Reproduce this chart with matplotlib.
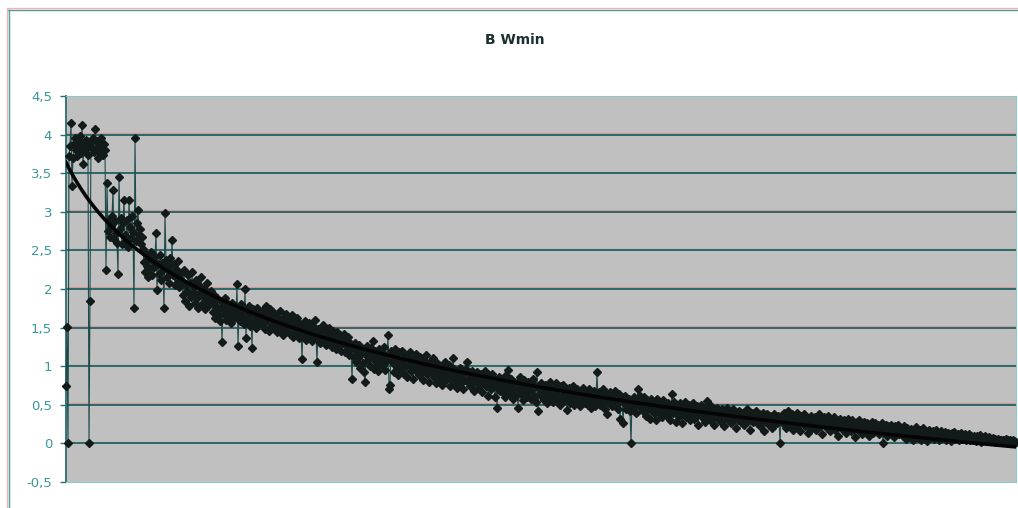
import matplotlib
matplotlib.use("Agg")
import matplotlib.pyplot as plt
import numpy as np
from matplotlib.lines import Line2D
from matplotlib.transforms import ScaledTranslation

# ---------------- data (left to right) ----------------
seg_a = [0.75, 1.51, 0.00, 3.72, 3.85, 4.15, 3.33, 3.70, 3.88, 3.95, 3.80, 3.72, 3.90, 3.84, 3.98,
         3.76, 4.13, 3.62, 3.88, 3.80, 3.93, 3.85, 3.74, 0.00, 1.85, 3.90, 3.82, 3.95, 3.78, 4.07,
         3.80, 3.92, 3.70, 3.86, 3.78, 3.96, 3.82, 3.74, 3.88, 3.80]
seg_b = [2.24, 3.37, 2.75, 2.90, 2.68, 2.82, 2.95, 3.28, 2.65, 2.88, 2.72, 2.60, 2.20, 3.45, 2.78,
         2.92, 2.58, 2.85, 3.15, 2.70, 2.62, 2.90, 2.55, 3.15, 2.80, 2.66, 2.94, 2.74, 1.75, 3.95,
         2.62, 2.86, 3.02, 2.70, 2.78, 2.58, 2.68, 2.52]
seg_c = [2.35, 2.22, 2.45, 2.30, 2.15, 2.40, 2.26, 2.48, 2.18, 2.36, 2.28, 2.42, 2.72, 1.99, 2.32,
         2.20, 2.44, 2.12, 2.34, 2.25, 1.75, 2.98, 2.38, 2.16, 2.30, 2.08, 2.40, 2.22, 2.64, 2.18,
         2.32, 2.05, 2.26, 2.14, 2.36, 2.02, 2.20, 2.10]
seg_d = [2.10, 1.92, 2.25, 1.85, 2.05, 1.98, 2.18, 1.78, 2.08, 1.90, 2.22, 1.95, 2.02, 1.82, 2.12,
         1.88, 1.75, 2.05, 1.96, 2.15, 1.80, 1.92, 2.00, 1.74, 1.86, 2.08, 1.78, 1.94, 1.84, 1.98]
seg_e = [1.85, 1.70, 1.92, 1.62, 1.78, 1.88, 1.66, 1.74, 1.58, 1.84, 1.31, 1.75, 1.68, 1.88, 1.60,
         1.72, 1.80, 1.64, 1.76, 1.56, 1.82, 1.70, 1.62, 1.78, 1.66, 2.06, 1.26, 1.72, 1.58, 1.80,
         1.64, 1.74, 1.55, 2.00, 1.37, 1.70, 1.60, 1.78, 1.52, 1.68, 1.23, 1.74, 1.58, 1.66, 1.50,
         1.76, 1.62, 1.54, 1.70, 1.58]
seg_f = [1.72, 1.55, 1.65, 1.48, 1.78, 1.60, 1.68, 1.45, 1.74, 1.52, 1.62, 1.70, 1.50, 1.58, 1.66,
         1.44, 1.62, 1.54, 1.72, 1.48, 1.58, 1.40, 1.64, 1.52, 1.68, 1.46, 1.56, 1.60, 1.42, 1.54,
         1.66, 1.38, 1.50, 1.58, 1.44, 1.62, 1.48, 1.36, 1.55, 1.46, 1.09, 1.52, 1.40, 1.58, 1.34,
         1.50, 1.44, 1.56, 1.38, 1.46, 1.32, 1.52, 1.42, 1.60, 1.36, 1.06, 1.48, 1.40, 1.30, 1.45,
         1.38, 1.54, 1.34, 1.44, 1.28, 1.42, 1.36, 1.50, 1.30, 1.40, 1.25, 1.46, 1.34, 1.38, 1.22,
         1.44, 1.32, 1.28, 1.40, 1.20, 1.36, 1.30, 1.42, 1.18, 1.34, 1.26, 1.38, 1.15, 1.30, 1.22]
seg_g = [0.83, 1.25, 1.12, 1.30, 1.05, 1.20, 1.10, 1.28, 0.98, 1.16, 1.22, 1.04, 0.92, 0.79, 1.14,
         1.26, 1.08, 1.18, 1.00, 1.24, 1.12, 1.32, 0.96, 1.20, 1.06, 1.15, 0.94, 1.22, 1.02, 1.10]
seg_h = [1.18, 1.02, 1.25, 0.95, 1.12, 1.08, 1.41, 0.71, 0.76, 1.20, 1.05, 1.15, 0.92, 1.22, 1.00,
         1.10, 0.88, 1.18, 1.04, 0.96, 1.20, 1.08, 0.90, 1.14, 1.00, 0.86, 1.12, 1.02, 1.18, 0.94,
         1.06, 0.84, 1.10, 0.98, 1.16, 0.92, 1.04, 0.88, 1.12, 0.96, 1.02, 0.82, 1.08, 0.94, 1.14,
         0.90, 1.00, 0.80, 1.06, 0.92, 0.98, 1.10, 0.86, 0.96, 0.78, 1.04, 0.90, 0.84, 1.00, 0.94,
         0.76, 0.98, 0.88, 1.06, 0.82, 0.94, 0.86, 1.02, 0.74, 0.92, 0.84, 1.10, 0.96, 0.80, 0.90,
         0.72, 0.94, 0.86, 0.98, 0.78, 0.88, 0.70, 0.92, 0.82, 0.96, 1.05, 0.80, 0.90, 0.74, 0.86,
         0.94, 0.78, 0.68, 0.88, 0.82, 0.92, 0.72, 0.84, 0.76, 0.90, 0.66, 0.86, 0.80, 0.94, 0.74,
         0.82, 0.62, 0.88, 0.78, 0.70, 0.90, 0.76, 0.84, 0.60, 0.80, 0.46, 0.72, 0.86, 0.68, 0.78]
seg_i = [0.82, 0.66, 0.74, 0.60, 0.88, 0.70, 0.95, 0.76, 0.64, 0.84, 0.72, 0.58, 0.80, 0.68, 0.62,
         0.78, 0.46, 0.70, 0.86, 0.64, 0.74, 0.56, 0.82, 0.66, 0.72, 0.60, 0.80, 0.68, 0.76, 0.58,
         0.70, 0.84, 0.62, 0.74, 0.54, 0.92, 0.42, 0.72, 0.64, 0.78, 0.60, 0.70, 0.56, 0.76, 0.66,
         0.52, 0.74, 0.62, 0.80, 0.58, 0.68, 0.54, 0.72, 0.64, 0.78, 0.56, 0.70, 0.60, 0.50, 0.74,
         0.62, 0.76, 0.55, 0.68, 0.58, 0.43, 0.66, 0.72, 0.52, 0.64, 0.58, 0.74, 0.50, 0.66, 0.60,
         0.70, 0.54, 0.62, 0.48, 0.68, 0.56, 0.72, 0.60, 0.52, 0.66, 0.64, 0.50, 0.70, 0.58, 0.46,
         0.62, 0.54, 0.68, 0.48, 0.60, 0.93, 0.56, 0.66, 0.50, 0.62, 0.54, 0.70, 0.58, 0.45, 0.64,
         0.38, 0.60, 0.52, 0.66, 0.56, 0.48, 0.62, 0.54, 0.68, 0.50, 0.58, 0.44, 0.64, 0.31, 0.56]
seg_j = [0.60, 0.27, 0.52, 0.62, 0.45, 0.56, 0.48, 0.58, 0.42, 0.00, 0.55, 0.46, 0.60, 0.50, 0.40,
         0.58, 0.70, 0.48, 0.62, 0.52]
seg_k = [0.55, 0.42, 0.60, 0.48, 0.36, 0.56, 0.44, 0.52, 0.32, 0.58, 0.46, 0.54, 0.40, 0.50, 0.30,
         0.58, 0.44, 0.52, 0.38, 0.48, 0.34, 0.56, 0.46, 0.42, 0.50, 0.36, 0.52, 0.44, 0.30, 0.48,
         0.64, 0.40, 0.54, 0.46, 0.28, 0.50, 0.42, 0.36, 0.52, 0.44, 0.26, 0.48, 0.40, 0.54, 0.34,
         0.46, 0.38, 0.50, 0.30, 0.44, 0.40, 0.52, 0.32, 0.46, 0.36, 0.48, 0.24, 0.42, 0.38, 0.50,
         0.34, 0.44, 0.40, 0.28, 0.46, 0.55, 0.36, 0.42, 0.30, 0.48, 0.38, 0.44, 0.24, 0.40, 0.34,
         0.46, 0.32, 0.42, 0.36, 0.28, 0.44, 0.38, 0.22, 0.40, 0.34, 0.46, 0.30, 0.38, 0.42, 0.26,
         0.36, 0.44, 0.32, 0.40, 0.20, 0.38, 0.30, 0.42, 0.34, 0.28, 0.40, 0.36, 0.24, 0.38, 0.32,
         0.44, 0.30, 0.36, 0.18, 0.34, 0.40, 0.28, 0.36, 0.32, 0.42, 0.26, 0.34, 0.38, 0.22, 0.36,
         0.30, 0.40, 0.16, 0.34, 0.28, 0.38, 0.32, 0.24, 0.36, 0.30, 0.20, 0.34, 0.38, 0.28, 0.32,
         0.26, 0.36, 0.30, 0.00, 0.32]
seg_l = [0.36, 0.26, 0.40, 0.30, 0.20, 0.34, 0.42, 0.24, 0.32, 0.28, 0.38, 0.18, 0.30, 0.35, 0.22,
         0.40, 0.28, 0.32, 0.16, 0.36, 0.26, 0.30, 0.38, 0.22, 0.34, 0.28, 0.14, 0.32, 0.24, 0.36,
         0.20, 0.30, 0.26, 0.34, 0.18, 0.32, 0.28, 0.38, 0.22, 0.30, 0.12, 0.26, 0.34, 0.24, 0.30,
         0.20, 0.36, 0.28, 0.16, 0.32, 0.26, 0.22, 0.34, 0.18, 0.28, 0.30, 0.10, 0.26, 0.32, 0.22,
         0.28, 0.18, 0.30, 0.24, 0.14, 0.26, 0.32, 0.20, 0.28, 0.16, 0.30, 0.22, 0.26, 0.08, 0.24,
         0.28, 0.18, 0.30, 0.20, 0.26, 0.12, 0.24, 0.28, 0.16, 0.22, 0.26, 0.20, 0.10, 0.24, 0.18,
         0.28, 0.14, 0.22, 0.26, 0.16, 0.20, 0.24, 0.12, 0.22, 0.18, 0.26, 0.00, 0.20, 0.16, 0.24,
         0.10, 0.22, 0.18, 0.14, 0.24, 0.16, 0.20, 0.08, 0.22, 0.14, 0.18, 0.24, 0.12, 0.20, 0.16]
seg_m = [0.18, 0.10, 0.22, 0.14, 0.06, 0.20, 0.12, 0.16, 0.08, 0.19, 0.13, 0.04, 0.17, 0.10, 0.21,
         0.15, 0.07, 0.12, 0.18, 0.05, 0.14, 0.20, 0.09, 0.16, 0.11, 0.03, 0.13, 0.18, 0.08, 0.15,
         0.10, 0.16, 0.06, 0.12, 0.17, 0.09, 0.14, 0.04, 0.12, 0.16, 0.07, 0.13, 0.10, 0.15, 0.05,
         0.11, 0.14, 0.08, 0.12, 0.03, 0.13, 0.09, 0.15, 0.06, 0.11, 0.08, 0.12, 0.04, 0.10, 0.13,
         0.06, 0.11, 0.09, 0.12, 0.05, 0.10, 0.07, 0.12, 0.04, 0.09]
seg_n = [0.08, 0.04, 0.10, 0.06, 0.03, 0.09, 0.05, 0.07, 0.11, 0.02, 0.08, 0.05, 0.06, 0.09, 0.03,
         0.07, 0.04, 0.08, 0.05, 0.06, 0.03, 0.07, 0.04, 0.06, 0.02, 0.05, 0.06, 0.03, 0.05, 0.04,
         0.02, 0.05, 0.03, 0.04, 0.06, 0.03, 0.04, 0.02, 0.05, 0.03, 0.02, 0.04, 0.03, 0.01, 0.02]

bw_min = np.array(seg_a + seg_b + seg_c + seg_d + seg_e + seg_f + seg_g + seg_h + seg_i
                  + seg_j + seg_k + seg_l + seg_m + seg_n)
y_ticks = [-0.5, 0, 0.5, 1, 1.5, 2, 2.5, 3, 3.5, 4, 4.5]
y_tick_labels = ["-0,5", "0", "0,5", "1", "1,5", "2", "2,5", "3", "3,5", "4", "4,5"]
title_text = "B Wmin"

# ---------------- figure ----------------
W, H = 1018, 508
fig = plt.figure(figsize=(W / 100, H / 100), dpi=100)
fig.patch.set_facecolor("white")

ax = fig.add_axes([66 / W, 1 - 482 / H, 950 / W, (482 - 96) / H])
ax.set_facecolor("#c0c0c0")

x = np.arange(len(bw_min))
ax.set_xlim(0, len(bw_min) - 1)
ax.set_ylim(-0.5, 4.5)

# gridlines: dark teal with a faint red fringe just above
fringe = ScaledTranslation(0, 1.6 / 100, fig.dpi_scale_trans)
for yv in y_ticks[1:-1]:
    ax.add_line(Line2D([0, 1], [yv, yv], transform=ax.get_yaxis_transform() + fringe,
                       color="#d49a9a", lw=0.9, zorder=1))
    ax.add_line(Line2D([0, 1], [yv, yv], transform=ax.get_yaxis_transform(),
                       color="#2b6868", lw=1.4, zorder=1.2))

# series
ax.plot(x, bw_min, color="#1f4a4a", lw=0.8, marker="D", ms=4.5,
        mfc="#121a1a", mec="#121a1a", zorder=3, clip_on=False)

# trendline: robust least-squares fit of the data, linear in ln(index + 45)
L = np.log(x + 45.0)
coef = np.polyfit(L, bw_min, 1)
keep = np.abs(bw_min - np.polyval(coef, L)) < 0.5
coef = np.polyfit(L[keep], bw_min[keep], 1)
ax.plot(x, np.polyval(coef, L), color="#050505", lw=2.6, zorder=4)

# axes styling
ax.set_yticks(y_ticks)
ax.set_yticklabels(y_tick_labels, fontfamily="DejaVu Sans", fontsize=9.5, color="#3a9898")
ax.set_xticks([])
ax.tick_params(axis="y", length=4, width=1.0, color="#2b6e6e", pad=6)
ax.spines["left"].set_color("#2b6e6e")
ax.spines["left"].set_linewidth(1.3)
for s in ("top", "right", "bottom"):
    ax.spines[s].set_color("#8ccaca")
    ax.spines[s].set_linewidth(0.8)

# outer chart frame (clipped at right and bottom)
fig.add_artist(Line2D([8 / W, 1], [1 - 8 / H, 1 - 8 / H], transform=fig.transFigure,
                      color="#f0b4b4", lw=1.0))
fig.add_artist(Line2D([8 / W, 1], [1 - 9.5 / H, 1 - 9.5 / H], transform=fig.transFigure,
                      color="#4e9c9c", lw=1.0))
fig.add_artist(Line2D([7 / W, 7 / W], [0, 1 - 8 / H], transform=fig.transFigure,
                      color="#f0b4b4", lw=1.0))
fig.add_artist(Line2D([8.5 / W, 8.5 / W], [0, 1 - 9.5 / H], transform=fig.transFigure,
                      color="#4e9c9c", lw=1.0))

fig.text(515 / W, 1 - 40 / H, title_text, ha="center", va="center", fontsize=10,
         fontweight="bold", fontfamily="DejaVu Sans", color="#1c2e2e")

fig.savefig("out.png", dpi=100)
